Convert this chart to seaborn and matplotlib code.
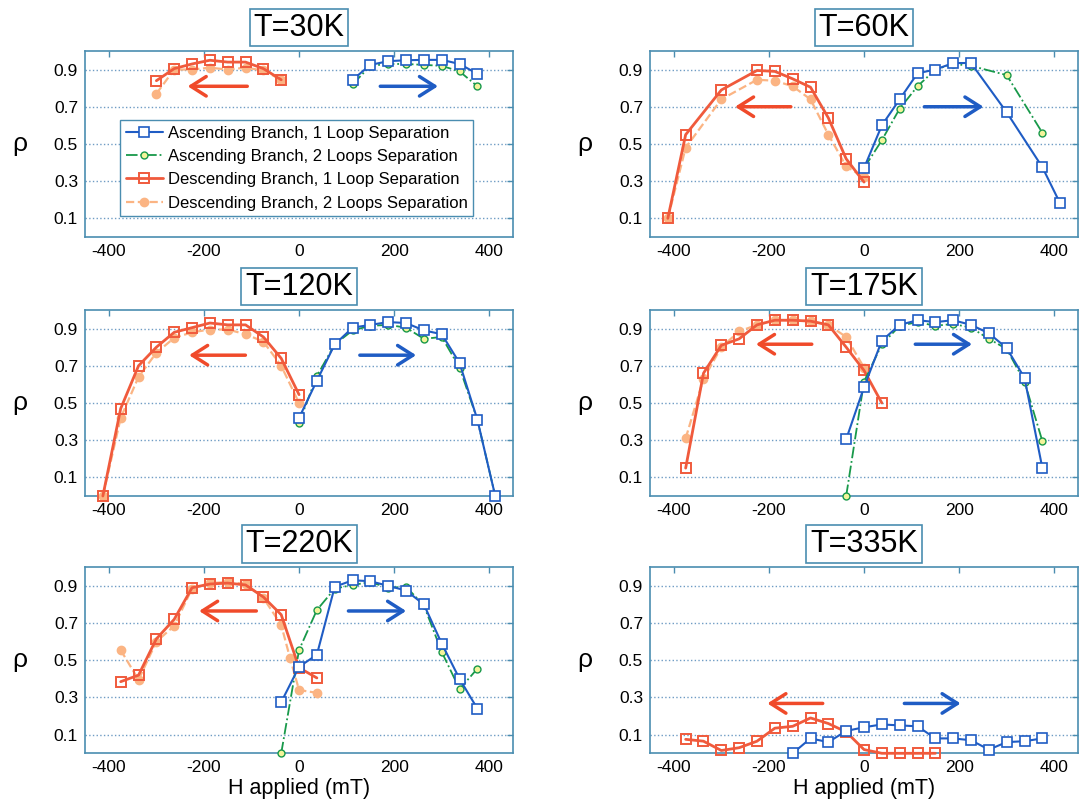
import numpy as np
import pandas as pd
import seaborn as sns
import matplotlib.pyplot as plt

# ---- data (H in mT, rho) ----
# T = 30K
h30_desc = [-300, -262.5, -225, -187.5, -150, -112.5, -75, -37.5]
r30_desc1 = [0.84, 0.905, 0.93, 0.95, 0.94, 0.94, 0.905, 0.845]
r30_desc2 = [0.77, 0.90, 0.90, 0.91, 0.90, 0.91, 0.895, 0.845]
h30_asc = [112.5, 150, 187.5, 225, 262.5, 300, 337.5, 375]
r30_asc1 = [0.845, 0.925, 0.945, 0.95, 0.952, 0.952, 0.93, 0.877]
r30_asc2 = [0.82, 0.92, 0.93, 0.93, 0.925, 0.92, 0.89, 0.81]

# T = 60K
h60_desc = [-412.5, -375, -300, -225, -187.5, -150, -112.5, -75, -37.5, 0]
r60_desc1 = [0.10, 0.55, 0.79, 0.895, 0.89, 0.85, 0.805, 0.64, 0.42, 0.295]
r60_desc2 = [0.10, 0.48, 0.74, 0.845, 0.84, 0.81, 0.74, 0.55, 0.38, 0.32]
h60_asc1 = [0, 37.5, 75, 112.5, 150, 187.5, 225, 300, 375, 412.5]
r60_asc1 = [0.37, 0.60, 0.74, 0.88, 0.90, 0.935, 0.935, 0.67, 0.375, 0.18]
h60_asc2 = [0, 37.5, 75, 112.5, 150, 187.5, 225, 300, 375]
r60_asc2 = [0.37, 0.52, 0.69, 0.81, 0.90, 0.93, 0.92, 0.87, 0.56]

# T = 120K
h120_desc = [-412.5, -375, -337.5, -300, -262.5, -225, -187.5, -150, -112.5, -75, -37.5, 0]
r120_desc1 = [0.0, 0.47, 0.70, 0.80, 0.88, 0.905, 0.93, 0.92, 0.92, 0.855, 0.74, 0.545]
r120_desc2 = [0.0, 0.42, 0.64, 0.77, 0.85, 0.88, 0.895, 0.895, 0.87, 0.83, 0.70, 0.50]
h120_asc = [0, 37.5, 75, 112.5, 150, 187.5, 225, 262.5, 300, 337.5, 375, 412.5]
r120_asc1 = [0.42, 0.62, 0.815, 0.905, 0.92, 0.935, 0.93, 0.89, 0.87, 0.715, 0.41, 0.0]
r120_asc2 = [0.395, 0.645, 0.815, 0.89, 0.915, 0.92, 0.905, 0.845, 0.855, 0.69, 0.41, 0.0]

# T = 175K
h175_desc1 = [-375, -337.5, -300, -262.5, -225, -187.5, -150, -112.5, -75, -37.5, 0, 37.5]
r175_desc1 = [0.15, 0.66, 0.81, 0.845, 0.92, 0.945, 0.945, 0.94, 0.92, 0.80, 0.675, 0.50]
h175_desc2 = [-375, -337.5, -300, -262.5, -225, -187.5, -150, -112.5, -75, -37.5, 0]
r175_desc2 = [0.31, 0.63, 0.80, 0.885, 0.92, 0.945, 0.945, 0.94, 0.92, 0.855, 0.69]
h175_asc = [-37.5, 0, 37.5, 75, 112.5, 150, 187.5, 225, 262.5, 300, 337.5, 375]
r175_asc1 = [0.305, 0.585, 0.835, 0.92, 0.945, 0.935, 0.945, 0.92, 0.875, 0.795, 0.635, 0.15]
r175_asc2 = [0.0, 0.615, 0.815, 0.915, 0.935, 0.915, 0.925, 0.905, 0.845, 0.79, 0.615, 0.295]

# T = 220K
h220_desc1 = [-375, -337.5, -300, -262.5, -225, -187.5, -150, -112.5, -75, -37.5, 0, 37.5]
r220_desc1 = [0.385, 0.42, 0.615, 0.72, 0.89, 0.91, 0.915, 0.905, 0.84, 0.745, 0.46, 0.405]
h220_desc2 = [-375, -337.5, -300, -262.5, -225, -187.5, -150, -112.5, -75, -37.5, -18.75, 0, 37.5]
r220_desc2 = [0.555, 0.395, 0.60, 0.685, 0.885, 0.915, 0.92, 0.91, 0.835, 0.69, 0.51, 0.34, 0.325]
h220_asc = [-37.5, 0, 37.5, 75, 112.5, 150, 187.5, 225, 262.5, 300, 337.5, 375]
r220_asc1 = [0.275, 0.465, 0.53, 0.895, 0.93, 0.925, 0.90, 0.875, 0.80, 0.59, 0.40, 0.24]
r220_asc2 = [0.0, 0.555, 0.77, 0.885, 0.905, 0.92, 0.89, 0.895, 0.795, 0.545, 0.345, 0.455]

# T = 335K
h335_desc = [-375, -337.5, -300, -262.5, -225, -187.5, -150, -112.5, -75, -37.5, 0, 37.5, 75, 112.5, 150]
r335_desc1 = [0.075, 0.065, 0.015, 0.03, 0.065, 0.135, 0.145, 0.19, 0.16, 0.115, 0.02, 0.0, 0.0, 0.0, 0.0]
h335_asc = [-150, -112.5, -75, -37.5, 0, 37.5, 75, 112.5, 150, 187.5, 225, 262.5, 300, 337.5, 375]
r335_asc1 = [0.0, 0.08, 0.06, 0.12, 0.14, 0.155, 0.15, 0.145, 0.08, 0.08, 0.07, 0.02, 0.06, 0.065, 0.08]

titles = ["T=30K", "T=60K", "T=120K", "T=175K", "T=220K", "T=335K"]
legend_labels = ["Ascending Branch, 1 Loop Separation",
                 "Ascending Branch, 2 Loops Separation",
                 "Descending Branch, 1 Loop Separation",
                 "Descending Branch, 2 Loops Separation"]

# arrows: (start, end, y) for red (descending) and blue (ascending)
red_arrows = [(-103, -240, 0.81), (-148, -277, 0.70), (-107, -237, 0.757),
              (-104, -233, 0.816), (-84, -216, 0.765), (-81, -209, 0.268)]
blue_arrows = [(165, 298, 0.81), (121, 257, 0.70), (122, 252, 0.757),
               (102, 233, 0.816), (98, 231, 0.765), (79, 209, 0.268)]

panels = [
    dict(asc1=(h30_asc, r30_asc1), asc2=(h30_asc, r30_asc2),
         desc1=(h30_desc, r30_desc1), desc2=(h30_desc, r30_desc2)),
    dict(asc1=(h60_asc1, r60_asc1), asc2=(h60_asc2, r60_asc2),
         desc1=(h60_desc, r60_desc1), desc2=(h60_desc, r60_desc2)),
    dict(asc1=(h120_asc, r120_asc1), asc2=(h120_asc, r120_asc2),
         desc1=(h120_desc, r120_desc1), desc2=(h120_desc, r120_desc2)),
    dict(asc1=(h175_asc, r175_asc1), asc2=(h175_asc, r175_asc2),
         desc1=(h175_desc1, r175_desc1), desc2=(h175_desc2, r175_desc2)),
    dict(asc1=(h220_asc, r220_asc1), asc2=(h220_asc, r220_asc2),
         desc1=(h220_desc1, r220_desc1), desc2=(h220_desc2, r220_desc2)),
    dict(asc1=(h335_asc, r335_asc1), desc1=(h335_desc, r335_desc1)),
]

# ---- styles ----
blue = "#1f5cc4"
green = "#18994a"
red = "#f05a3c"
orange = "#fbb483"
frame = "#4a8db0"

styles = {
    "desc2": dict(color=orange, linestyle="--", lw=1.6, marker="o", markersize=6,
                  markerfacecolor=orange, markeredgecolor=orange, markeredgewidth=1),
    "desc1": dict(color=red, linestyle="-", lw=2.0, marker="s", markersize=7,
                  markerfacecolor="none", markeredgecolor=red, markeredgewidth=1.4),
    "asc2": dict(color=green, linestyle="-.", lw=1.3, marker="o", markersize=5,
                 markerfacecolor="#f4f49a", markeredgecolor=green, markeredgewidth=1),
    "asc1": dict(color=blue, linestyle="-", lw=1.5, marker="s", markersize=6.5,
                 markerfacecolor="white", markeredgecolor=blue, markeredgewidth=1.2),
}
order = ["desc2", "desc1", "asc2", "asc1"]
legend_order = ["asc1", "asc2", "desc1", "desc2"]

sns.set_theme(style="white")
plt.rcParams["font.family"] = ["Liberation Sans", "DejaVu Sans"]
plt.rcParams["axes.unicode_minus"] = False
plt.rcParams["text.color"] = "black"
plt.rcParams["axes.labelcolor"] = "black"

fig = plt.figure(figsize=(10.79, 8.06), dpi=100)
lefts = [0.0788, 0.6024]
bottoms = [0.706, 0.3846, 0.0654]
w, h = 0.3967, 0.2308

for i, p in enumerate(panels):
    ax = fig.add_axes([lefts[i % 2], bottoms[i // 2], w, h])
    lines = {}
    for key in order:
        if key not in p:
            continue
        x, y = p[key]
        df = pd.DataFrame({"H": x, "rho": y})
        sns.lineplot(data=df, x="H", y="rho", ax=ax, sort=False, errorbar=None,
                     legend=False, clip_on=False, zorder=3, **styles[key])
        lines[key] = ax.get_lines()[-1]

    rs, re, ry = red_arrows[i]
    ax.annotate("", xy=(re, ry), xytext=(rs, ry),
                arrowprops=dict(arrowstyle="->,head_length=0.55,head_width=0.35",
                                color="#f04a2a", lw=2.5, mutation_scale=20))
    bs, be, by = blue_arrows[i]
    ax.annotate("", xy=(be, by), xytext=(bs, by),
                arrowprops=dict(arrowstyle="->,head_length=0.55,head_width=0.35",
                                color=blue, lw=2.5, mutation_scale=20))

    ax.set_xlim(-450, 450)
    ax.set_ylim(0, 1)
    ax.set_xticks([-400, -200, 0, 200, 400])
    ax.set_yticks([0.1, 0.3, 0.5, 0.7, 0.9])
    ax.set_yticklabels(["0.1", "0.3", "0.5", "0.7", "0.9"])
    ax.grid(axis="y", linestyle=":", color="#6f9cc4", lw=1.0)
    ax.grid(axis="x", visible=False)
    ax.tick_params(direction="in", top=True, right=True, length=4, width=1,
                   color=frame, labelsize=12.5, labelcolor="black", pad=5)
    for s in ax.spines.values():
        s.set_color(frame)
        s.set_linewidth(1.2)

    ax.set_ylabel("ρ", rotation=0, fontsize=19, va="center", ha="center")
    ax.yaxis.set_label_coords(-0.152, 0.5)
    if i // 2 == 2:
        ax.set_xlabel("H applied (mT)", fontsize=15.5, labelpad=2)
    else:
        ax.set_xlabel("")

    ax.set_title(titles[i], fontsize=22, pad=11, color="black",
                 bbox=dict(boxstyle="square,pad=0.12", fc="white", ec=frame, lw=1.2))

    if i == 0:
        leg = ax.legend([lines[k] for k in legend_order], legend_labels,
                        loc="upper left", bbox_to_anchor=(0.082, 0.63),
                        fontsize=12, frameon=True, fancybox=False, framealpha=1,
                        edgecolor=frame, handlelength=2.2, handletextpad=0.3,
                        borderpad=0.35, labelspacing=0.5, borderaxespad=0)
        leg.set_zorder(5)

fig.savefig("out.png", dpi=100)
